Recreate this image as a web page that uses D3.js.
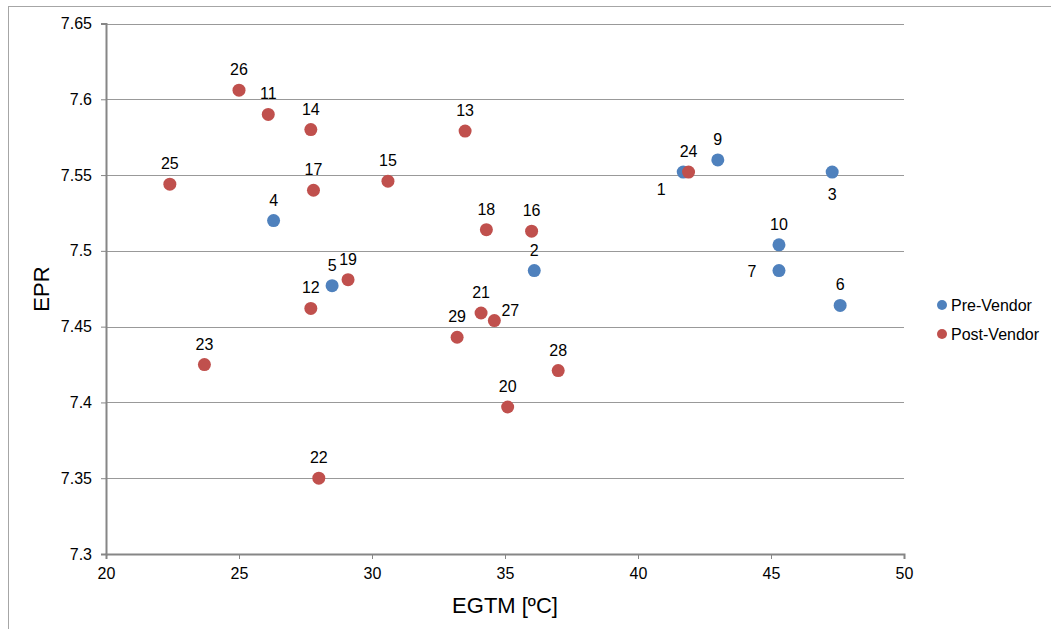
<!DOCTYPE html>
<html lang="en">
  <head>
    <title>EPR vs EGTM</title>
    <script src="https://d3js.org/d3.v7.min.js"></script>
    <style>
      body { margin: 0; background: #fff; }
      text { font-family: 'Liberation Sans', Arial, sans-serif; fill: #000; }
    </style>
  </head>
  <body>
    <div id='chart'></div>
    <script type='text/javascript'>
      // data
      let preIds  = [1, 2, 3, 4, 5, 6, 7, 9, 10];
      let preEgtm = [41.7, 36.1, 47.3, 26.3, 28.5, 47.6, 45.3, 43.0, 45.3];
      let preEpr  = [7.552, 7.487, 7.552, 7.520, 7.477, 7.464, 7.487, 7.560, 7.504];

      let postIds  = [11, 12, 13, 14, 15, 16, 17, 18, 19, 20, 21, 22, 23, 24, 25, 26, 27, 28, 29];
      let postEgtm = [26.1, 27.7, 33.5, 27.7, 30.6, 36.0, 27.8, 34.3, 29.1, 35.1, 34.1, 28.0, 23.7, 41.9, 22.4, 25.0, 34.6, 37.0, 33.2];
      let postEpr  = [7.590, 7.462, 7.579, 7.580, 7.546, 7.513, 7.540, 7.514, 7.481, 7.397, 7.459, 7.350, 7.425, 7.552, 7.544, 7.606, 7.454, 7.421, 7.443];

      let xTicks = [20, 25, 30, 35, 40, 45, 50];
      let yTicks = [7.3, 7.35, 7.4, 7.45, 7.5, 7.55, 7.6, 7.65];

      let seriesNames  = ['Pre-Vendor', 'Post-Vendor'];
      let seriesColors = ['#4f81bd', '#c0504d'];

      // labels that are not placed above their point
      let labelPlace = {1: 'belowLeft', 3: 'below', 7: 'left', 27: 'aboveRight'};

      let W = 1051, H = 629;
      let svg = d3.select('#chart').append('svg')
        .attr('width', W).attr('height', H);

      svg.append('rect')
        .attr('x', 8.5).attr('y', 6.5)
        .attr('width', W).attr('height', H)
        .attr('fill', 'none').attr('stroke', '#a6a6a6');

      let x = d3.scaleLinear().domain([20, 50]).range([106, 904]);
      let y = d3.scaleLinear().domain([7.3, 7.65]).range([554, 23.5]);

      // gridlines
      svg.append('g').selectAll('line')
        .data(yTicks.slice(1))
        .join('line')
        .attr('x1', x(20)).attr('x2', x(50))
        .attr('y1', d => Math.round(y(d)) + 0.5).attr('y2', d => Math.round(y(d)) + 0.5)
        .attr('stroke', '#999').attr('stroke-width', 1);

      let yAxis = svg.append('g')
        .attr('transform', 'translate(' + x(20) + ',0)')
        .call(d3.axisLeft(y).tickValues(yTicks).tickSize(5).tickFormat(d => String(+d.toFixed(2))));
      let xAxis = svg.append('g')
        .attr('transform', 'translate(0,' + y(7.3) + ')')
        .call(d3.axisBottom(x).tickValues(xTicks).tickSize(5).tickFormat(d3.format('d')));

      [xAxis, yAxis].forEach(a => {
        a.select('.domain').attr('stroke', '#868686').attr('stroke-width', 2);
        a.selectAll('.tick line').attr('stroke', '#868686');
        a.selectAll('.tick text').attr('font-size', 16)
          .attr('font-family', "'Liberation Sans', Arial, sans-serif").attr('fill', '#000');
      });
      yAxis.selectAll('.tick text').attr('x', -14);
      xAxis.selectAll('.tick text').attr('y', 14);

      // axis titles
      svg.append('text')
        .attr('x', 505).attr('y', 613)
        .attr('text-anchor', 'middle').attr('font-size', 22)
        .text('EGTM [ºC]');
      svg.append('text')
        .attr('transform', 'translate(49,289) rotate(-90)')
        .attr('text-anchor', 'middle').attr('font-size', 22)
        .text('EPR');

      let pre  = preIds.map((id, i) => ({id: id, x: preEgtm[i], y: preEpr[i], s: 0}));
      let post = postIds.map((id, i) => ({id: id, x: postEgtm[i], y: postEpr[i], s: 1}));

      [pre, post].forEach(series => {
        svg.append('g').selectAll('circle')
          .data(series)
          .join('circle')
          .attr('cx', d => x(d.x)).attr('cy', d => y(d.y))
          .attr('r', 6.5)
          .attr('fill', d => seriesColors[d.s]);
      });

      function labelPos(d) {
        let px = x(d.x), py = y(d.y);
        switch (labelPlace[d.id]) {
          case 'below':      return [px, py + 28];
          case 'belowLeft':  return [px - 22, py + 23];
          case 'left':       return [px - 27, py + 6];
          case 'aboveRight': return [px + 16, py - 5];
          default:           return [px, py - 15];
        }
      }

      svg.append('g').selectAll('text')
        .data(pre.concat(post))
        .join('text')
        .attr('x', d => labelPos(d)[0]).attr('y', d => labelPos(d)[1])
        .attr('text-anchor', 'middle').attr('font-size', 16)
        .text(d => d.id);

      // legend
      let legend = svg.append('g').selectAll('g')
        .data(seriesNames)
        .join('g')
        .attr('transform', (d, i) => 'translate(942,' + (305 + i * 29) + ')');
      legend.append('circle').attr('r', 5).attr('fill', (d, i) => seriesColors[i]);
      legend.append('text').attr('x', 9).attr('y', 6).attr('font-size', 16).text(d => d);
    </script>
  </body>
</html>
